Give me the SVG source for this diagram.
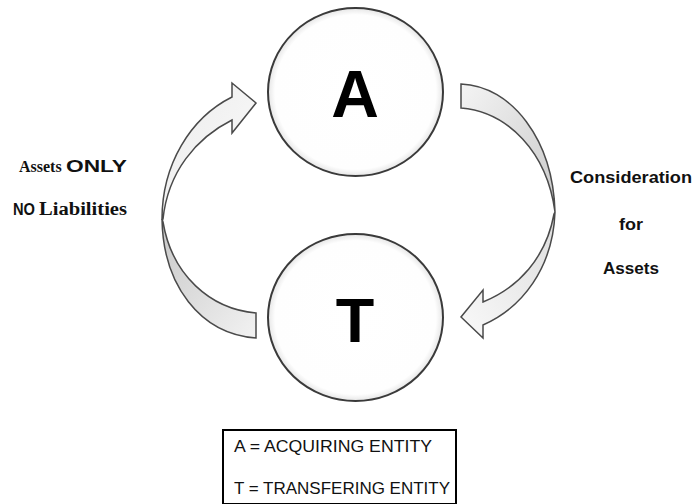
<svg xmlns="http://www.w3.org/2000/svg" width="694" height="504" viewBox="0 0 694 504">
<style>
.node{stroke:#3a3a3a;stroke-width:2;fill:url(#cg)}
.big{font-family:"Liberation Sans",Arial,sans-serif;font-weight:bold;fill:#000;text-anchor:middle}
.arr{stroke:#4a4a4a;stroke-width:1.5;stroke-linejoin:miter}
.sb{font-family:"Liberation Sans",Arial,sans-serif;font-weight:bold;font-size:16px;fill:#111}
.tb{font-family:"Liberation Serif","Times New Roman",serif;font-weight:bold;font-size:18px;fill:#111}
.key{font-family:"Liberation Sans",Arial,sans-serif;font-size:17px;fill:#111}
</style>
<defs>
<radialGradient id="cg" cx="0.5" cy="0.5" r="0.5">
<stop offset="0" stop-color="#ffffff"/>
<stop offset="0.92" stop-color="#fefefe"/>
<stop offset="1" stop-color="#e6e6e6"/>
</radialGradient>
<linearGradient id="lg1" x1="0" y1="0" x2="1" y2="1">
<stop offset="0" stop-color="#ececec"/>
<stop offset="1" stop-color="#fbfbfb"/>
</linearGradient>
<linearGradient id="lg2" x1="0" y1="0" x2="1" y2="1">
<stop offset="0" stop-color="#c8c8c8"/>
<stop offset="1" stop-color="#f2f2f2"/>
</linearGradient>
<linearGradient id="lg3" x1="0" y1="0" x2="1" y2="1">
<stop offset="0" stop-color="#f4f4f4"/>
<stop offset="1" stop-color="#cacaca"/>
</linearGradient>
<linearGradient id="lg4" x1="1" y1="0" x2="0" y2="1">
<stop offset="0" stop-color="#dedede"/>
<stop offset="1" stop-color="#f9f9f9"/>
</linearGradient>
</defs>
<g id="connectors">
<g id="arrow-left">
<path class="arr" fill="url(#lg2)" d="M162,219 C163,285 200,334 256,338 L256,313 C210,309 172,275 163,222 Z"/>
<path class="arr" fill="url(#lg1)" d="M162,219 C162,165 190,118 232,97 L232,83 L256,103 L232,133 L232,120 C196,138 168,172 163,219 Z"/>
</g>
<g id="arrow-right">
<path class="arr" fill="url(#lg3)" d="M461,84 C512,86 553,140 555,212 C547,152 508,112 461,108 Z"/>
<path class="arr" fill="url(#lg4)" d="M555,212 C553,268 522,308 483,325 L483,338 L461,317 L483,290 L483,302 C518,288 546,258 554,214 Z"/>
</g>
</g>
<g id="node-A">
<ellipse class="node" cx="355.5" cy="92" rx="87.5" ry="84"/>
<text class="big" x="355" y="117" font-size="66">A</text>
</g>
<g id="node-T">
<ellipse class="node" cx="355.5" cy="317.5" rx="87.5" ry="83.5"/>
<text class="big" x="355" y="342" font-size="63">T</text>
</g>
<g id="label-left">
<text class="tb" x="19" y="172" style="font-size:16px">Assets</text>
<text class="sb" x="66" y="172" textLength="61" lengthAdjust="spacingAndGlyphs">ONLY</text>
<text class="sb" x="13" y="215" textLength="22" lengthAdjust="spacingAndGlyphs">NO</text>
<text class="tb" x="39" y="215" textLength="88" lengthAdjust="spacingAndGlyphs">Liabilities</text>
</g>
<g id="label-right">
<text class="sb" x="570" y="183" textLength="122" lengthAdjust="spacingAndGlyphs">Consideration</text>
<text class="sb" x="619" y="230" textLength="24" lengthAdjust="spacingAndGlyphs">for</text>
<text class="sb" x="603" y="274" textLength="56" lengthAdjust="spacingAndGlyphs">Assets</text>
</g>
<g id="key">
<rect x="223" y="430" width="233" height="74" fill="#fff" stroke="#000" stroke-width="2"/>
<text class="key" x="234" y="452" textLength="198" lengthAdjust="spacingAndGlyphs">A = ACQUIRING ENTITY</text>
<text class="key" x="234" y="494" textLength="216" lengthAdjust="spacingAndGlyphs">T = TRANSFERING ENTITY</text>
</g>
</svg>
